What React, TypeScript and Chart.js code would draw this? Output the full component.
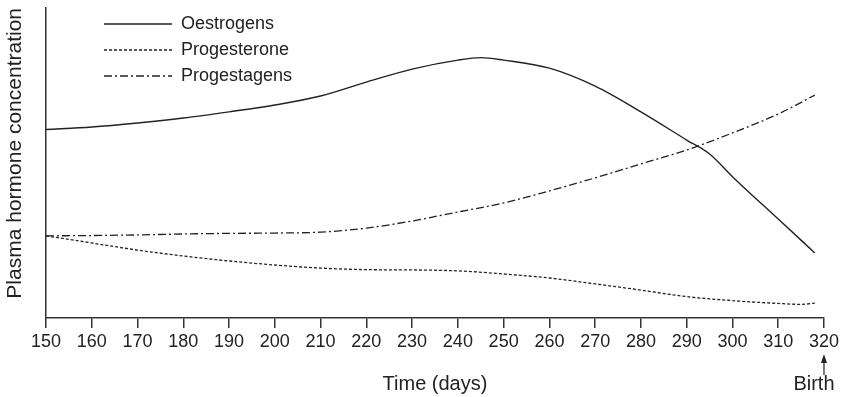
import React, { useEffect, useRef } from 'react';
import { Chart, registerables } from 'chart.js';

Chart.register(...registerables);

// ---- Data (arbitrary concentration units, 0–100) ----
const xTickStart = 150;
const xTickEnd = 320;
const xTickStep = 10;

const oestrogenDays = [150, 160, 170, 180, 190, 200, 210, 220, 230, 240, 245, 250, 260, 270, 280, 290, 295, 300, 310, 318];
const oestrogenValues = [60.8, 61.6, 62.9, 64.5, 66.5, 68.7, 71.6, 76.1, 80.3, 83.2, 84.0, 83.2, 80.6, 74.8, 66.5, 57.4, 52.9, 45.6, 31.9, 21.0];

const progesteroneDays = [150, 160, 170, 180, 190, 200, 210, 220, 230, 240, 250, 260, 270, 280, 290, 300, 310, 315, 318];
const progesteroneValues = [26.5, 24.2, 21.9, 20.0, 18.4, 17.1, 16.1, 15.6, 15.5, 15.2, 14.2, 12.9, 11.0, 9.0, 6.9, 5.6, 4.7, 4.4, 4.8];

const progestagenDays = [150, 160, 170, 180, 190, 200, 210, 220, 230, 240, 250, 260, 270, 280, 290, 300, 310, 318];
const progestagenValues = [26.5, 26.6, 26.8, 27.1, 27.3, 27.4, 27.7, 29.0, 31.3, 34.2, 37.1, 41.0, 45.2, 49.7, 54.2, 59.7, 65.8, 71.9];

const seriesNames = ['Oestrogens', 'Progesterone', 'Progestagens'];
const xTitle = 'Time (days)';
const yTitle = 'Plasma hormone concentration';
const birthDay = 320;
const birthLabel = 'Birth';

const FONT = '"Liberation Sans", Arial, Helvetica, sans-serif';
const INK = '#222';

const toPoints = (xs: number[], ys: number[]) => xs.map((x, i) => ({ x, y: ys[i] }));

const legendShift = {
  id: 'legendShift',
  afterLayout(chart: any) {
    const l = chart.legend;
    if (l) {
      l.left += 50;
      l.top += 7;
    }
  },
};

const birthPlugin = {
  id: 'birthMarker',
  afterDraw(chart: any) {
    const { ctx, scales, chartArea } = chart;
    const px = scales.x.getPixelForValue(birthDay);
    const base = chartArea.bottom;
    ctx.save();
    ctx.strokeStyle = INK;
    ctx.fillStyle = INK;
    ctx.lineWidth = 1.2;
    ctx.beginPath();
    ctx.moveTo(px, base + 57);
    ctx.lineTo(px, base + 41);
    ctx.stroke();
    ctx.beginPath();
    ctx.moveTo(px, base + 36);
    ctx.lineTo(px - 3, base + 45);
    ctx.lineTo(px + 3, base + 45);
    ctx.closePath();
    ctx.fill();
    ctx.font = '20px ' + FONT;
    ctx.textAlign = 'center';
    ctx.textBaseline = 'middle';
    ctx.fillText(birthLabel, px - 10, base + 66);
    ctx.restore();
  },
};

export default function App() {
  const ref = useRef<HTMLCanvasElement | null>(null);

  useEffect(() => {
    if (!ref.current) return;
    const chart = new Chart(ref.current, {
      type: 'line',
      data: {
        datasets: [
          {
            label: seriesNames[0],
            data: toPoints(oestrogenDays, oestrogenValues),
            borderColor: INK,
            backgroundColor: INK,
            borderWidth: 1.4,
            borderDash: [],
            pointRadius: 0,
            cubicInterpolationMode: 'monotone',
          },
          {
            label: seriesNames[1],
            data: toPoints(progesteroneDays, progesteroneValues),
            borderColor: INK,
            backgroundColor: INK,
            borderWidth: 1.3,
            borderDash: [3, 2],
            pointRadius: 0,
            cubicInterpolationMode: 'monotone',
          },
          {
            label: seriesNames[2],
            data: toPoints(progestagenDays, progestagenValues),
            borderColor: INK,
            backgroundColor: INK,
            borderWidth: 1.3,
            borderDash: [8, 3, 2, 3],
            pointRadius: 0,
            cubicInterpolationMode: 'monotone',
          },
        ],
      },
      options: {
        animation: false,
        responsive: false,
        devicePixelRatio: 1,
        layout: { padding: { top: 8, right: 16, left: 0, bottom: 0 } },
        plugins: {
          tooltip: { enabled: false },
          legend: {
            position: 'chartArea',
            align: 'start',
            labels: {
              usePointStyle: true,
              pointStyle: 'line',
              pointStyleWidth: 68,
              padding: 8,
              color: INK,
              font: { size: 18, family: FONT },
              generateLabels: (c: any) => {
                const items = (Chart as any).defaults.plugins.legend.labels.generateLabels(c);
                return items.map((it: any) => {
                  const ds = c.data.datasets[it.datasetIndex];
                  return {
                    ...it,
                    lineDash: ds.borderDash || [],
                    lineWidth: ds.borderWidth,
                    strokeStyle: ds.borderColor,
                  };
                });
              },
            },
          },
        },
        scales: {
          x: {
            type: 'linear',
            min: xTickStart,
            max: xTickEnd,
            afterFit: (s: any) => {
              s.height = 79;
            },
            ticks: {
              stepSize: xTickStep,
              color: INK,
              padding: 3,
              font: { size: 18, family: FONT },
              maxRotation: 0,
              autoSkip: false,
            },
            grid: {
              drawOnChartArea: false,
              drawTicks: true,
              tickLength: 10,
              color: '#333',
              lineWidth: 1.5,
            },
            border: { display: true, color: '#333', width: 1.5 },
            title: {
              display: true,
              text: xTitle,
              color: INK,
              font: { size: 20, family: FONT },
              padding: { top: 0, bottom: 1 },
            },
          },
          y: {
            type: 'linear',
            min: 0,
            max: 100,
            afterFit: (s: any) => {
              s.width = 46;
            },
            ticks: { display: false },
            grid: { display: false, drawTicks: false },
            border: { display: true, color: '#333', width: 1.5 },
            title: {
              display: true,
              text: yTitle,
              align: 'end',
              color: INK,
              font: { size: 21, family: FONT },
              padding: { top: 3, bottom: 0 },
            },
          },
        },
      } as any,
      plugins: [legendShift, birthPlugin],
    });
    return () => chart.destroy();
  }, []);

  return (
    <div style={{ position: 'fixed', left: 0, top: 0, width: 842, height: 397, background: '#fff' }}>
      <canvas ref={ref} width={842} height={397} style={{ display: 'block' }} />
    </div>
  );
}
